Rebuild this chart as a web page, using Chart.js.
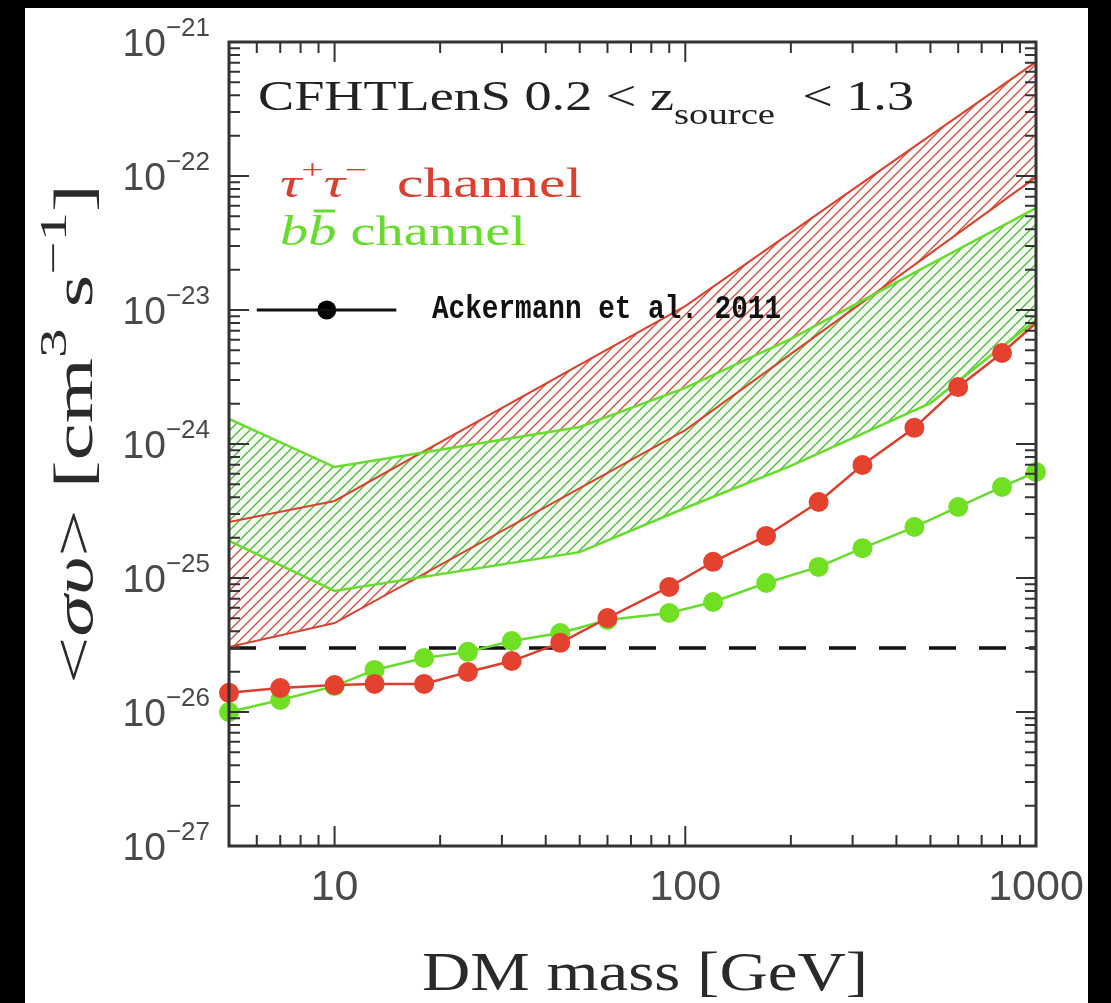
<!DOCTYPE html>
<html>
<head>
<meta charset="utf-8">
<script src="https://cdn.jsdelivr.net/npm/chart.js@4.4.1/dist/chart.umd.min.js"></script>
<style>
    html, body { margin: 0; padding: 0; background: #000; }
    #chart { display: block; }
</style>
</head>
<body>
<canvas id="chart" width="1111" height="1003"></canvas>
<script>
// Upper limits on <sigma v> vs DM mass
const masses = [5, 7, 10, 13, 18, 24, 32, 44, 60, 90, 120, 170, 240, 320, 450, 600, 800, 1000];
const tauLimit = [1.39e-26, 1.51e-26, 1.59e-26, 1.62e-26, 1.62e-26, 1.99e-26, 2.40e-26, 3.28e-26, 5.03e-26,
    8.57e-26, 1.32e-25, 2.06e-25, 3.69e-25, 6.97e-25, 1.32e-24, 2.66e-24, 4.78e-24, 8.0e-24];
const bbLimit = [1.0e-26, 1.23e-26, 1.56e-26, 2.06e-26, 2.53e-26, 2.81e-26, 3.39e-26, 3.89e-26, 4.86e-26,
    5.48e-26, 6.62e-26, 9.18e-26, 1.21e-25, 1.67e-25, 2.40e-25, 3.39e-25, 4.78e-25, 6.18e-25];

// Hatched bands (tau+tau- and b bbar)
const tauBandMass = [5, 10, 100, 1000];
const tauBandHigh = [2.62e-25, 3.76e-25, 1.07e-23, 7.1e-22];
const tauBandLow = [3.05e-26, 4.61e-26, 1.27e-24, 9.8e-23];
const bbBandMass = [5, 10, 50, 100, 200, 500, 1000];
const bbBandHigh = [1.54e-24, 6.73e-25, 1.34e-24, 2.62e-24, 6.08e-24, 2.2e-23, 5.77e-23];
const bbBandLow = [1.89e-25, 8.0e-26, 1.56e-25, 3.33e-25, 6.86e-25, 2.02e-24, 8.41e-24];

// Thermal relic cross-section and Ackermann et al. 2011 point
const thermalRelic = 3e-26;
const massRange = [5, 1000];
const sigmaRange = [1e-27, 1e-21];
const ackermannBar = [6, 15];
const ackermannMass = 9.5;
const ackermannValue = 1e-23;

const xTickLabels = ['10', '100', '1000'];
const yTickExponents = [-21, -22, -23, -24, -25, -26, -27];

const RED = '#dc3f2e';
const GREEN = '#66dc2c';
const SERIF = '"Liberation Serif", "DejaVu Serif", serif';
const SANS = '"Liberation Sans", Arial, sans-serif';

function hatch(color, bg) {
    const c = document.createElement('canvas');
    c.width = 10; c.height = 10;
    const g = c.getContext('2d');
    if (bg) { g.fillStyle = bg; g.fillRect(0, 0, 10, 10); }
    g.strokeStyle = color;
    g.lineWidth = 1.3;
    g.beginPath();
    g.moveTo(-2, 12); g.lineTo(12, -2);
    g.moveTo(-7, 7); g.lineTo(7, -7);
    g.moveTo(3, 17); g.lineTo(17, 3);
    g.stroke();
    return g.createPattern(c, 'repeat');
}

function pts(xs, ys) {
    return xs.map((x, i) => ({ x: x, y: ys[i] }));
}

// draw a run of text pieces, squeezed/stretched to a given width
function richText(ctx, parts, x, y, width, align) {
    let total = 0;
    parts.forEach(p => { ctx.font = p.font; p.w = ctx.measureText(p.t).width; total += p.w; });
    const sx = width ? width / total : 1;
    ctx.save();
    ctx.translate(x, y);
    ctx.scale(sx, 1);
    let cx = 0;
    if (align === 'center') cx = -total / 2;
    if (align === 'right') cx = -total;
    parts.forEach(p => {
        ctx.font = p.font;
        ctx.fillStyle = p.color || '#222';
        ctx.fillText(p.t, cx, p.dy || 0);
        if (p.bar) {
            ctx.strokeStyle = p.color;
            ctx.lineWidth = 3;
            ctx.beginPath();
            ctx.moveTo(cx + p.w * 0.2, p.bar);
            ctx.lineTo(cx + p.w * 0.95, p.bar);
            ctx.stroke();
        }
        cx += p.w;
    });
    ctx.restore();
}

const decorations = {
    id: 'decorations',
    beforeDraw(chart) {
        const ctx = chart.ctx;
        ctx.save();
        ctx.fillStyle = '#000';
        ctx.fillRect(0, 0, chart.width, chart.height);
        ctx.fillStyle = '#fff';
        ctx.fillRect(25, 8, 1063, 1003);
        ctx.restore();
    },
    afterDraw(chart) {
        const ctx = chart.ctx;
        const a = chart.chartArea;
        const xs = chart.scales.x, ys = chart.scales.y;
        ctx.save();

        // frame
        ctx.strokeStyle = '#333';
        ctx.lineWidth = 3;
        ctx.strokeRect(a.left, a.top, a.right - a.left, a.bottom - a.top);

        // inward ticks on all four sides
        ctx.lineWidth = 2;
        ctx.beginPath();
        for (let e = 0; e <= 3; e++) {
            for (let k = 1; k < 10; k++) {
                const v = k * Math.pow(10, e);
                if (v <= massRange[0] || v >= massRange[1]) continue;
                const px = xs.getPixelForValue(v);
                const len = k === 1 ? 20 : 11;
                ctx.moveTo(px, a.bottom); ctx.lineTo(px, a.bottom - len);
                ctx.moveTo(px, a.top); ctx.lineTo(px, a.top + len);
            }
        }
        for (let e = -27; e <= -22; e++) {
            for (let k = 1; k < 10; k++) {
                const v = k * Math.pow(10, e);
                if (v <= sigmaRange[0] * 1.0001 || v >= sigmaRange[1] * 0.9999) continue;
                const py = ys.getPixelForValue(v);
                const len = k === 1 ? 20 : 11;
                ctx.moveTo(a.left, py); ctx.lineTo(a.left + len, py);
                ctx.moveTo(a.right, py); ctx.lineTo(a.right - len, py);
            }
        }
        ctx.stroke();

        // tick labels
        ctx.textBaseline = 'alphabetic';
        yTickExponents.forEach(e => {
            const py = ys.getPixelForValue(Math.pow(10, e));
            richText(ctx, [
                { t: '10', font: '39px ' + SANS, color: '#4a4a4a' },
                { t: '\u2212' + (-e), font: '26px ' + SANS, color: '#4a4a4a', dy: -20 }
            ], 210, py + 14, null, 'right');
        });
        xTickLabels.forEach(t => {
            const px = xs.getPixelForValue(Number(t));
            richText(ctx, [{ t: t, font: '43px ' + SANS, color: '#4a4a4a' }], px, 900, null, 'center');
        });

        // axis titles
        richText(ctx, [{ t: 'DM mass [GeV]', font: '54px ' + SERIF, color: '#2a2a2a' }], 645, 990, 446, 'center');

        ctx.save();
        ctx.translate(92, 434);
        ctx.rotate(-Math.PI / 2);
        richText(ctx, [
            { t: '<', font: '54px ' + SERIF, color: '#2a2a2a' },
            { t: '\u03c3\u03c5', font: 'italic 54px ' + SERIF, color: '#2a2a2a' },
            { t: '> [cm', font: '54px ' + SERIF, color: '#2a2a2a' },
            { t: '3', font: '38px ' + SERIF, color: '#2a2a2a', dy: -26 },
            { t: ' s', font: '54px ' + SERIF, color: '#2a2a2a' },
            { t: '\u22121', font: '38px ' + SERIF, color: '#2a2a2a', dy: -26 },
            { t: ']', font: '54px ' + SERIF, color: '#2a2a2a' }
        ], 0, 0, 500, 'center');
        ctx.restore();

        // annotations
        richText(ctx, [
            { t: 'CFHTLenS 0.2 < z', font: '42px ' + SERIF, color: '#222' },
            { t: 'source', font: '30px ' + SERIF, color: '#222', dy: 14 },
            { t: '  < 1.3', font: '42px ' + SERIF, color: '#222' }
        ], 258, 110, 656);
        richText(ctx, [
            { t: '\u03c4', font: 'italic 42px ' + SERIF, color: RED },
            { t: '+', font: '28px ' + SERIF, color: RED, dy: -18 },
            { t: '\u03c4', font: 'italic 42px ' + SERIF, color: RED },
            { t: '\u2212', font: '28px ' + SERIF, color: RED, dy: -18 },
            { t: '  channel', font: '42px ' + SERIF, color: RED }
        ], 280, 197, 302);
        richText(ctx, [
            { t: 'b', font: 'italic 42px ' + SERIF, color: GREEN },
            { t: 'b', font: 'italic 42px ' + SERIF, color: GREEN, bar: -34 },
            { t: ' channel', font: '42px ' + SERIF, color: GREEN }
        ], 280, 245, 246);
        richText(ctx, [
            { t: 'Ackermann et al. 2011', font: 'bold 33px "Liberation Mono", monospace', color: '#111' }
        ], 432, 318, 349);

        ctx.restore();
    }
};

const ctx = document.getElementById('chart').getContext('2d');
new Chart(ctx, {
    type: 'line',
    data: {
        datasets: [
            {
                data: pts(masses, tauLimit),
                borderColor: RED, borderWidth: 2.5,
                pointBackgroundColor: '#e5412f', pointBorderWidth: 0,
                pointRadius: c => (c.dataIndex === masses.length - 1 ? 0 : 10),
                fill: false, clip: false, order: 0
            },
            {
                data: pts(masses, bbLimit),
                borderColor: GREEN, borderWidth: 2.5,
                pointBackgroundColor: '#70e023', pointBorderWidth: 0, pointRadius: 10,
                fill: false, clip: false, order: 1
            },
            {
                data: pts(ackermannBar, [ackermannValue, ackermannValue]),
                borderColor: '#111', borderWidth: 3, pointRadius: 0, fill: false, order: 2
            },
            {
                data: [{ x: ackermannMass, y: ackermannValue }],
                showLine: false, pointRadius: 9.5, pointBackgroundColor: '#000', pointBorderWidth: 0, order: 2
            },
            {
                data: pts(bbBandMass, bbBandHigh),
                borderColor: GREEN, borderWidth: 2.5, pointRadius: 0,
                backgroundColor: hatch('#4cb838', '#f5fcf2'),
                fill: '+1', order: 3
            },
            {
                data: pts(bbBandMass, bbBandLow),
                borderColor: GREEN, borderWidth: 2.5, pointRadius: 0, fill: false, order: 4
            },
            {
                data: pts(tauBandMass, tauBandHigh),
                borderColor: '#d8432f', borderWidth: 2, pointRadius: 0,
                backgroundColor: hatch('#d24a3a', null),
                fill: '+1', order: 5
            },
            {
                data: pts(tauBandMass, tauBandLow),
                borderColor: '#d8432f', borderWidth: 2, pointRadius: 0, fill: false, order: 6
            },
            {
                data: pts(massRange, [thermalRelic, thermalRelic]),
                borderColor: '#111', borderWidth: 3.5, borderDash: [27, 23],
                pointRadius: 0, fill: false, order: 7
            }
        ]
    },
    options: {
        responsive: false,
        animation: false,
        events: [],
        layout: { padding: { left: 229, top: 42, right: 75, bottom: 157 } },
        elements: { line: { tension: 0 } },
        plugins: {
            legend: { display: false },
            tooltip: { enabled: false },
            filler: { drawTime: 'beforeDatasetsDraw' }
        },
        scales: {
            x: { type: 'logarithmic', min: massRange[0], max: massRange[1], display: false },
            y: { type: 'logarithmic', min: sigmaRange[0], max: sigmaRange[1], display: false }
        }
    },
    plugins: [decorations]
});
</script>
</body>
</html>
